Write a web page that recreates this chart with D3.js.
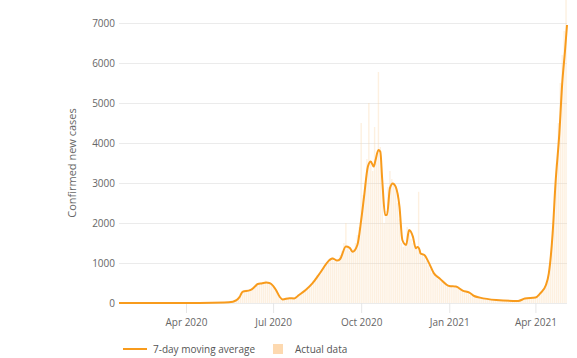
<!DOCTYPE html>
<html>
<head>
<meta charset="utf-8">
<script src="https://cdn.jsdelivr.net/npm/d3@7"></script>
<style>
  body { margin: 0; background: #fff; }
  text { font-family: "Open Sans", sans-serif; }
</style>
</head>
<body>
<div id="chart"></div>
<script>
// 7-day moving average
const avgDates = [
  "2020-01-22", "2020-04-15", "2020-05-11", "2020-05-20", "2020-05-27", "2020-05-30",
  "2020-06-07", "2020-06-12", "2020-06-15", "2020-06-19", "2020-06-24", "2020-06-27",
  "2020-06-29", "2020-07-04", "2020-07-08", "2020-07-11", "2020-07-18", "2020-07-23",
  "2020-07-28", "2020-08-04", "2020-08-11", "2020-08-19", "2020-08-29", "2020-09-01",
  "2020-09-06", "2020-09-09", "2020-09-15", "2020-09-19", "2020-09-22", "2020-09-27",
  "2020-10-01", "2020-10-04", "2020-10-08", "2020-10-11", "2020-10-14", "2020-10-16",
  "2020-10-19", "2020-10-21", "2020-10-23", "2020-10-26", "2020-10-28", "2020-10-31",
  "2020-11-03", "2020-11-06", "2020-11-10", "2020-11-13", "2020-11-17", "2020-11-20",
  "2020-11-24", "2020-11-27", "2020-11-29", "2020-12-01", "2020-12-02", "2020-12-06",
  "2020-12-11", "2020-12-16", "2020-12-22", "2021-01-01", "2021-01-08", "2021-01-15",
  "2021-01-22", "2021-01-27", "2021-02-02", "2021-02-19", "2021-03-14", "2021-03-21",
  "2021-04-01", "2021-04-06", "2021-04-12", "2021-04-15", "2021-04-19", "2021-04-22",
  "2021-04-26", "2021-04-29", "2021-05-02", "2021-05-04"
];
const avgValues = [
  0, 2, 10, 30, 150, 280,
  320, 410, 475, 490, 510, 500,
  475, 325, 150, 90, 120, 115,
  200, 325, 490, 750, 1075, 1115,
  1060, 1100, 1410, 1380, 1280, 1450,
  2075, 2660, 3410, 3540, 3410, 3575,
  3825, 3780, 3075, 2200, 2200, 2870,
  2990, 2910, 2410, 1575, 1450, 1825,
  1660, 1370, 1400, 1325, 1240, 1200,
  990, 740, 615, 425, 410, 310,
  260, 175, 135, 75, 50, 110,
  135, 240, 450, 740, 1740, 2990,
  4240, 5490, 6325, 6950
];

// actual daily reports, one value every second day from actualStart
const actualStart = "2020-04-30";
const actualValues = [
  3, 2, 5, 8, 10, 6, 12, 15, 20, 30, 45, 70, 110, 170, 240, 310,            // May 2020
  290, 340, 300, 350, 380, 420, 460, 500, 470, 520, 490, 560, 520, 480, 450,  // Jun
  420, 360, 260, 150, 100, 80, 110, 130, 120, 100, 130, 140, 180, 210, 240, 280, // Jul
  300, 340, 380, 430, 480, 560, 620, 700, 740, 800, 880, 950, 1000, 1100, 1120, // Aug
  1150, 1050, 1100, 1000, 1200, 1300, 1500, 2000, 1400, 1300, 1250, 1350, 1500, 1700, 1900, // Sep
  4500, 2700, 3000, 3600, 5000, 3500, 3300, 4400, 3700, 5775, 3900, 3000, 2000, 2300, 2900, 3300, // Oct
  3100, 3000, 2900, 2500, 2100, 1500, 1400, 1500, 1900, 1800, 1600, 1500, 1400, 1350, 2780, // Nov
  1250, 1200, 1150, 1050, 950, 850, 750, 700, 650, 600, 580, 520, 480, 450, 420, // Dec
  400, 430, 380, 420, 400, 350, 320, 300, 280, 260, 240, 200, 170, 150, 140, 130, // Jan 2021
  120, 110, 100, 90, 85, 80, 75, 70, 70, 65, 60, 60, 55, 55,                  // Feb
  50, 50, 45, 50, 48, 50, 55, 60, 80, 100, 110, 115, 120, 125, 130,           // Mar
  140, 160, 200, 250, 300, 400, 550, 800, 1200, 1800, 2800, 3500, 4500, 5500, 6200, // Apr
  6800, 7600                                                                  // May
];

const yTicks = [0, 1000, 2000, 3000, 4000, 5000, 6000, 7000];
const xDomain = ["2020-01-22", "2021-05-04"];

const parse = d3.timeParse("%Y-%m-%d");
const avg = avgDates.map((d, i) => ({date: parse(d), value: avgValues[i]}));
const actual = actualValues.map((v, i) => ({date: d3.timeDay.offset(parse(actualStart), i * 2), value: v}));

const W = 577, H = 358;
const plot = {left: 119, right: 567, top: 23, bottom: 303};

const svg = d3.select("#chart").append("svg")
    .attr("width", W)
    .attr("height", H);

const x = d3.scaleTime()
    .domain(xDomain.map(parse))
    .range([plot.left, plot.right]);

const y = d3.scaleLinear()
    .domain([0, 7000])
    .range([plot.bottom, plot.top]);

// gridlines + y labels
const yAxis = svg.append("g")
    .attr("transform", `translate(${plot.left},0)`)
    .call(d3.axisLeft(y).tickValues(yTicks).tickSize(-(plot.right - plot.left)).tickPadding(4).tickFormat(d3.format("d")));
yAxis.select(".domain").remove();
yAxis.selectAll(".tick line").attr("stroke", "#ebebeb");
yAxis.selectAll(".tick text")
    .attr("fill", "#666")
    .style("font-size", "10px")
    .style("font-family", "Open Sans, sans-serif");

// x axis
const xAxis = svg.append("g")
    .attr("transform", `translate(0,${plot.bottom})`)
    .call(d3.axisBottom(x).ticks(d3.timeMonth.every(3)).tickFormat(d3.timeFormat("%b %Y")).tickSize(10).tickPadding(6));
xAxis.select(".domain").remove();
xAxis.selectAll(".tick line").attr("stroke", "#e6e6e6");
xAxis.selectAll(".tick text")
    .attr("fill", "#666")
    .style("font-size", "10px")
    .style("font-family", "Open Sans, sans-serif");

// actual data bars
const barW = 1.4;
svg.append("g")
    .selectAll("rect")
    .data(actual)
    .enter().append("rect")
    .attr("x", d => x(d.date) - barW / 2)
    .attr("y", d => Math.max(0, y(d.value)))
    .attr("width", barW)
    .attr("height", d => plot.bottom - Math.max(0, y(d.value)))
    .attr("fill", "#fbd7ae")
    .attr("opacity", 0.38);

// moving average line
svg.append("path")
    .datum(avg)
    .attr("fill", "none")
    .attr("stroke", "#f89b1c")
    .attr("stroke-width", 2)
    .attr("stroke-linejoin", "round")
    .attr("d", d3.line().x(d => x(d.date)).y(d => y(d.value)).curve(d3.curveMonotoneX));

// y title
svg.append("text")
    .attr("transform", "rotate(-90)")
    .attr("x", -163)
    .attr("y", 76)
    .attr("text-anchor", "middle")
    .attr("fill", "#666")
    .style("font-size", "11px")
    .text("Confirmed new cases");

// legend
const legend = svg.append("g").attr("transform", "translate(0,349)");
legend.append("line")
    .attr("x1", 123).attr("x2", 147)
    .attr("y1", 0).attr("y2", 0)
    .attr("stroke", "#f89b1c")
    .attr("stroke-width", 2);
legend.append("text")
    .attr("x", 153).attr("y", 0)
    .attr("dy", "0.35em")
    .attr("fill", "#555")
    .style("font-size", "10px")
    .text("7-day moving average");
legend.append("rect")
    .attr("x", 273).attr("y", -5)
    .attr("width", 10).attr("height", 10)
    .attr("fill", "#fdd9b0");
legend.append("text")
    .attr("x", 295).attr("y", 0)
    .attr("dy", "0.35em")
    .attr("fill", "#555")
    .style("font-size", "10px")
    .text("Actual data");
</script>
</body>
</html>
